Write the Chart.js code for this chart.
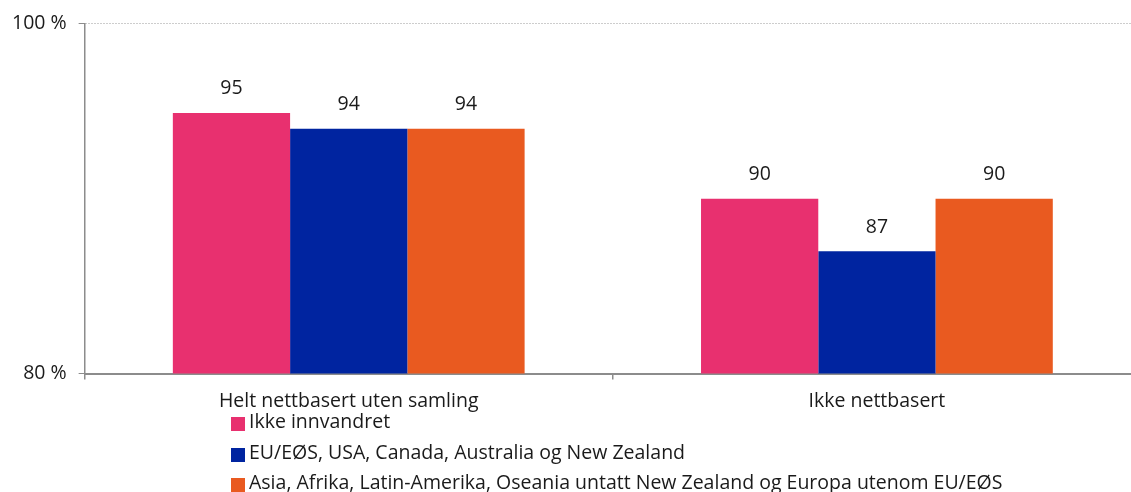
<!DOCTYPE html>
<html>
<head>
<meta charset="utf-8">
<script src="https://cdn.jsdelivr.net/npm/chart.js@4/dist/chart.umd.min.js"></script>
<style>
  html, body { margin: 0; padding: 0; background: #fff; overflow: hidden; }
  #wrap { position: relative; width: 1131px; height: 492px; overflow: hidden; }
  canvas { position: absolute; left: 0; top: 0; }
  #legend { position: absolute; left: 231px; top: 409px; font-family: "Open Sans", "Noto Sans", sans-serif; font-size: 19.5px; color: #1a1a1a; }
  #legend .item { height: 30.5px; line-height: 24px; display: flex; align-items: flex-start; white-space: nowrap; }
  #legend .box { width: 14px; height: 14px; margin-top: 8px; margin-right: 4px; flex: none; }
</style>
</head>
<body>
<div id="wrap">
  <canvas id="c" width="1141" height="492"></canvas>
  <div id="legend"></div>
</div>
<script>
const categories = ["Helt nettbasert uten samling", "Ikke nettbasert"];
const seriesNames = [
  "Ikke innvandret",
  "EU/EØS, USA, Canada, Australia og New Zealand",
  "Asia, Afrika, Latin-Amerika, Oseania untatt New Zealand og Europa utenom EU/EØS"
];
const ikkeInnvandret = [94.9, 90.0];
const euEos = [94.0, 87.0];
const asiaAfrika = [94.0, 90.0];
const yTicks = [80, 100];
const colors = ["#E8306F", "#0024A0", "#E95A20"];

const FONT = '"Open Sans", "Noto Sans", sans-serif';
const FS = 19.5;
const seriesValues = [ikkeInnvandret, euEos, asiaAfrika];

const valueLabels = {
  id: 'valueLabels',
  afterDatasetsDraw(chart) {
    const ctx = chart.ctx;
    ctx.save();
    ctx.font = FS + 'px ' + FONT;
    ctx.fillStyle = '#1a1a1a';
    ctx.textAlign = 'center';
    ctx.textBaseline = 'middle';
    chart.data.datasets.forEach((ds, i) => {
      chart.getDatasetMeta(i).data.forEach((bar, j) => {
        ctx.fillText(Math.round(ds.data[j]).toString(), bar.x, bar.y - 24);
      });
    });
    ctx.restore();
  }
};

const chart = new Chart(document.getElementById('c'), {
  type: 'bar',
  data: {
    labels: categories,
    datasets: seriesNames.map((n, i) => ({
      label: n,
      data: seriesValues[i],
      backgroundColor: colors[i],
      borderWidth: 0,
      categoryPercentage: 0.666,
      barPercentage: 1.0
    }))
  },
  options: {
    responsive: false,
    animation: false,
    layout: { padding: { top: 5, left: 0, right: 0, bottom: 69 } },
    plugins: { legend: { display: false }, tooltip: { enabled: false } },
    scales: {
      x: {
        grid: { display: true, drawOnChartArea: false, offset: true, tickLength: 6, color: '#8c8c8c', lineWidth: 1.5 },
        border: { display: true, color: '#8c8c8c', width: 2 },
        ticks: { font: { family: FONT, size: FS }, color: '#1a1a1a', padding: 10 }
      },
      y: {
        min: 80, max: 100,
        afterBuildTicks: (axis) => { axis.ticks = yTicks.map(v => ({ value: v })); },
        grid: {
          color: (c) => (c.tick && c.tick.value === 100) ? '#9a9a9a' : 'rgba(0,0,0,0)',
          tickColor: '#8c8c8c',
          tickLength: 6,
          lineWidth: 1
        },
        border: { display: true, color: '#8c8c8c', width: 1.5, dash: [1, 2] },
        ticks: {
          font: { family: FONT, size: FS }, color: '#1a1a1a', padding: 12,
          callback: (v) => v + ' %'
        }
      }
    }
  },
  plugins: [valueLabels]
});

const leg = document.getElementById('legend');
seriesNames.forEach((n, i) => {
  const d = document.createElement('div');
  d.className = 'item';
  const b = document.createElement('span');
  b.className = 'box';
  b.style.background = colors[i];
  const t = document.createElement('span');
  t.textContent = n;
  d.appendChild(b); d.appendChild(t);
  leg.appendChild(d);
});
</script>
</body>
</html>
